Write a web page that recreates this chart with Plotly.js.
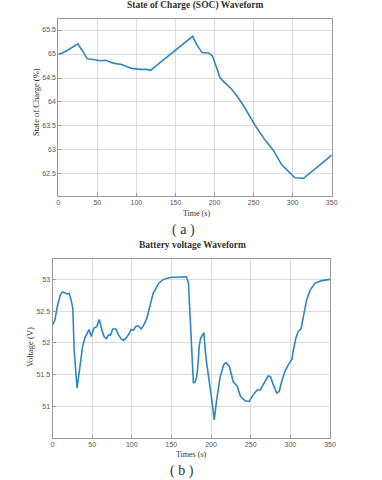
<!DOCTYPE html>
<html>
<head>
<meta charset="utf-8">
<script src="https://cdn.plot.ly/plotly-3.0.1.min.js"></script>
<style>
  html, body { margin: 0; padding: 0; background: #fff; }
  #chart { width: 382px; height: 480px; }
</style>
</head>
<body>
<div id="chart"></div>
<script>
// SOC waveform (a)
var socTime  = [0, 4, 13, 25, 30, 37, 47, 53, 61, 70, 81, 94, 105, 113, 118, 172, 177, 184, 192, 197, 201, 207, 212, 220, 229, 238, 248, 252, 265, 275, 286, 297, 303, 314, 322, 335, 350];
var socValue = [65.0, 65.01, 65.09, 65.21, 65.09, 64.9, 64.88, 64.86, 64.87, 64.81, 64.78, 64.7, 64.68, 64.68, 64.66, 65.37, 65.2, 65.03, 65.02, 64.97, 64.79, 64.51, 64.42, 64.3, 64.12, 63.9, 63.62, 63.51, 63.2, 63.0, 62.69, 62.51, 62.42, 62.41, 62.51, 62.69, 62.89];

// battery voltage waveform (b)
var voltTime  = [0, 3, 6, 10, 12.6, 16, 19, 21, 23, 25.6, 27.3, 31, 35, 37, 38, 41, 44, 46, 49, 52, 56, 59, 62, 65, 68, 71, 73, 76, 80, 83, 87, 89.5, 93, 96, 99, 102, 105, 108, 112, 115.5, 119, 123, 127, 134, 140, 148, 161, 169, 171.5, 175.6, 177.7, 180, 182, 184, 185, 187, 191, 192.5, 194.5, 201, 204, 207, 211.5, 216, 219, 223, 228, 233, 237, 243, 248, 253, 258, 262, 267, 272, 275, 278.5, 283, 286, 289, 293, 297.5, 302, 304, 307, 310, 313.5, 316.5, 320.6, 325, 331, 339.5, 350];
var voltValue = [52.28, 52.36, 52.57, 52.76, 52.8, 52.78, 52.77, 52.78, 52.7, 52.55, 51.89, 51.29, 51.68, 51.9, 51.95, 52.08, 52.16, 52.21, 52.1, 52.23, 52.26, 52.37, 52.22, 52.1, 52.07, 52.13, 52.12, 52.22, 52.22, 52.13, 52.06, 52.04, 52.08, 52.13, 52.21, 52.2, 52.26, 52.27, 52.22, 52.29, 52.39, 52.6, 52.78, 52.94, 53.0, 53.03, 53.04, 53.04, 52.94, 51.89, 51.37, 51.39, 51.47, 51.74, 51.95, 52.08, 52.16, 51.9, 51.68, 51.1, 50.79, 51.1, 51.47, 51.66, 51.69, 51.63, 51.39, 51.32, 51.16, 51.09, 51.08, 51.18, 51.26, 51.26, 51.38, 51.48, 51.47, 51.34, 51.21, 51.24, 51.39, 51.55, 51.66, 51.74, 51.9, 52.08, 52.18, 52.22, 52.42, 52.68, 52.83, 52.94, 52.98, 53.0];

var timeTicks = [0, 50, 100, 150, 200, 250, 300, 350];
var socTicks  = [62.5, 63, 63.5, 64, 64.5, 65, 65.5];
var voltTicks = [51, 51.5, 52, 52.5, 53];

var lineColor = '#2f86c0';
var tickFont = {family: 'Liberation Sans, Arial, sans-serif', size: 7, color: '#555'};
var serif = 'Liberation Serif, Times New Roman, serif';

function axis(domain, range, ticks, anchor) {
    return {
        domain: domain, range: range, anchor: anchor,
        tickvals: ticks, ticktext: ticks.map(String),
        showgrid: true, gridcolor: '#dcdcdc', gridwidth: 1,
        zeroline: false, showline: true, mirror: true,
        linecolor: '#9a9a9a', linewidth: 1,
        ticks: 'inside', ticklen: 3, tickcolor: '#9a9a9a',
        tickfont: tickFont, fixedrange: true
    };
}

var traces = [
    {x: socTime, y: socValue, xaxis: 'x', yaxis: 'y', mode: 'lines',
     line: {color: lineColor, width: 1.6}, hoverinfo: 'skip'},
    {x: voltTime, y: voltValue, xaxis: 'x2', yaxis: 'y2', mode: 'lines',
     line: {color: lineColor, width: 1.6}, hoverinfo: 'skip'}
];

function note(text, x, y, size, bold, angle) {
    return {
        text: bold ? '<b>' + text + '</b>' : text,
        xref: 'paper', yref: 'paper', x: x / 382, y: 1 - y / 480,
        xanchor: 'center', yanchor: 'middle', showarrow: false,
        textangle: angle || 0,
        font: {family: serif, size: size, color: '#333'}
    };
}

var layout = {
    width: 382, height: 480,
    margin: {l: 0, r: 0, t: 0, b: 0},
    paper_bgcolor: '#fff', plot_bgcolor: '#fff',
    showlegend: false,
    xaxis:  axis([58.3 / 382, 331.7 / 382], [0, 350], timeTicks, 'y'),
    yaxis:  axis([1 - 196 / 480, 1 - 19 / 480], [62.04, 65.73], socTicks, 'x'),
    xaxis2: axis([52.5 / 382, 330 / 382], [0, 350], timeTicks, 'y2'),
    yaxis2: axis([1 - 437.7 / 480, 1 - 259 / 480], [50.51, 53.32], voltTicks, 'x2'),
    annotations: [
        note('State of Charge (SOC) Waveform', 195, 6, 9.5, true),
        note('State of Charge (%)', 36, 102, 8.5, false, -90),
        note('Time (s)', 196, 213, 8, false),
        note('( a )', 183, 230, 14, false),
        note('Battery voltage Waveform', 192.5, 245, 9.5, true),
        note('Voltage (V)', 30, 347, 8.5, false, -90),
        note('Times (s)', 190.5, 454, 8, false),
        note('( b )', 182, 471, 14, false)
    ]
};

Plotly.newPlot('chart', traces, layout, {staticPlot: true, displayModeBar: false});
</script>
</body>
</html>
